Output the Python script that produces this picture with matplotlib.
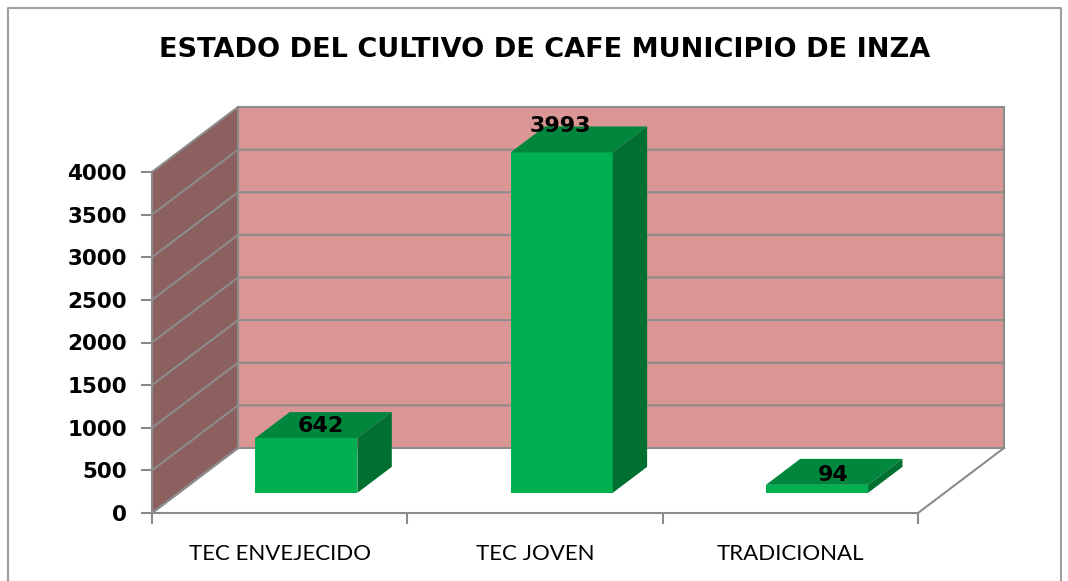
import numpy as np
import matplotlib.pyplot as plt
from matplotlib.patches import Polygon
from matplotlib.lines import Line2D

categories = ['TEC ENVEJECIDO', 'TEC JOVEN', 'TRADICIONAL']
values = [642, 3993, 94]
yticks = [0, 500, 1000, 1500, 2000, 2500, 3000, 3500, 4000]
title = 'ESTADO DEL CULTIVO DE CAFE MUNICIPIO DE INZA'

W, H = 1068, 581
fig = plt.figure(figsize=(W / 100, H / 100), dpi=100)
fig.patch.set_facecolor('white')

# front plane of the 3d box
ax = fig.add_axes([152 / W, 68 / H, 766 / W, 341 / H])
ax.set_xlim(-0.5, 2.5)
ax.set_ylim(0, 4000)
ax.patch.set_visible(False)

# pixel sizes of one data unit, depth offset in data units
PXX = 766 / 3
PXY = 341 / 4000
DX = 86 / PXX
DY = 65 / PXY

wall_c = '#D99694'
side_c = '#8C605E'
grid_c = '#8C8C8C'
front_c = '#00B050'
top_c = '#00863D'
right_c = '#007030'

def poly(pts, fc, ec='none', lw=0, z=1):
    ax.add_patch(Polygon(pts, closed=True, fc=fc, ec=ec, lw=lw, zorder=z,
                         clip_on=False, joinstyle='miter'))

def line(xs, ys, z=2):
    ax.add_line(Line2D(xs, ys, color=grid_c, lw=1.5, zorder=z, clip_on=False))

x0, x1 = -0.5, 2.5
ymax = yticks[-1]
# side wall
poly([(x0, 0), (x0, ymax), (x0 + DX, ymax + DY), (x0 + DX, DY)], side_c, z=1)
# back wall
poly([(x0 + DX, DY), (x1 + DX, DY), (x1 + DX, ymax + DY), (x0 + DX, ymax + DY)],
     wall_c, z=1)
# gridlines on walls
for v in yticks:
    line([x0, x0 + DX, x1 + DX], [v, v + DY, v + DY])
line([x0 + DX, x0 + DX], [DY, ymax + DY])
line([x1 + DX, x1 + DX], [DY, ymax + DY])
line([x0, x0 + DX], [0, DY])
# floor
poly([(x0, 0), (x1, 0), (x1 + DX, DY), (x0 + DX, DY)], 'white', z=1.5)
line([x1, x1 + DX], [0, DY])

# bars
bw = 0.4
f0, f1 = 0.31, 0.71
for i, v in enumerate(values):
    ox, oy = f0 * DX, f0 * DY
    bx, by = (f1 - f0) * DX, (f1 - f0) * DY
    l, r = i - bw / 2 + ox, i + bw / 2 + ox
    b, t = oy, v + oy
    poly([(l, b), (r, b), (r, t), (l, t)], front_c, z=3)
    poly([(l, t), (r, t), (r + bx, t + by), (l + bx, t + by)], top_c, z=3)
    poly([(r, b), (r + bx, b + by), (r + bx, t + by), (r, t)], right_c, z=3)
    lx = i + ox + (17 - 0.0045 * v) / PXX
    ly = t + (9 + 0.00425 * v) / PXY
    ax.text(lx, ly, str(v), ha='center', va='center', fontsize=16,
            fontweight='bold', zorder=5, clip_on=False)

# axes
for s in ['top', 'right']:
    ax.spines[s].set_visible(False)
for s in ['left', 'bottom']:
    ax.spines[s].set_color(grid_c)
    ax.spines[s].set_linewidth(1.5)
    ax.spines[s].set_zorder(2.5)
ax.set_yticks(yticks)
ax.set_yticklabels([str(v) for v in yticks], fontsize=15.5, fontweight='bold')
ax.set_xticks([-0.5, 0.5, 1.5, 2.5])
ax.set_xticklabels([])
ax.set_xticks([0, 1, 2], minor=True)
ax.set_xticklabels(categories, minor=True, fontsize=16, family='Lato')
ax.tick_params(axis='y', length=8, width=1.5, color=grid_c, pad=10)
ax.tick_params(axis='x', which='major', length=8, width=1.5, color=grid_c)
ax.tick_params(axis='x', which='minor', length=0, pad=22)

fig.text(545 / W, 1 - 50 / H, title, ha='center', va='center', fontsize=19.5,
         fontweight='bold')

# chart border
fig.add_artist(Line2D([8 / W, 8 / W, 1061 / W, 1061 / W],
                      [0, 1 - 8 / H, 1 - 8 / H, 0], color='#A0A0A0', lw=1.5,
                      transform=fig.transFigure))

fig.savefig('out.png', dpi=100)
